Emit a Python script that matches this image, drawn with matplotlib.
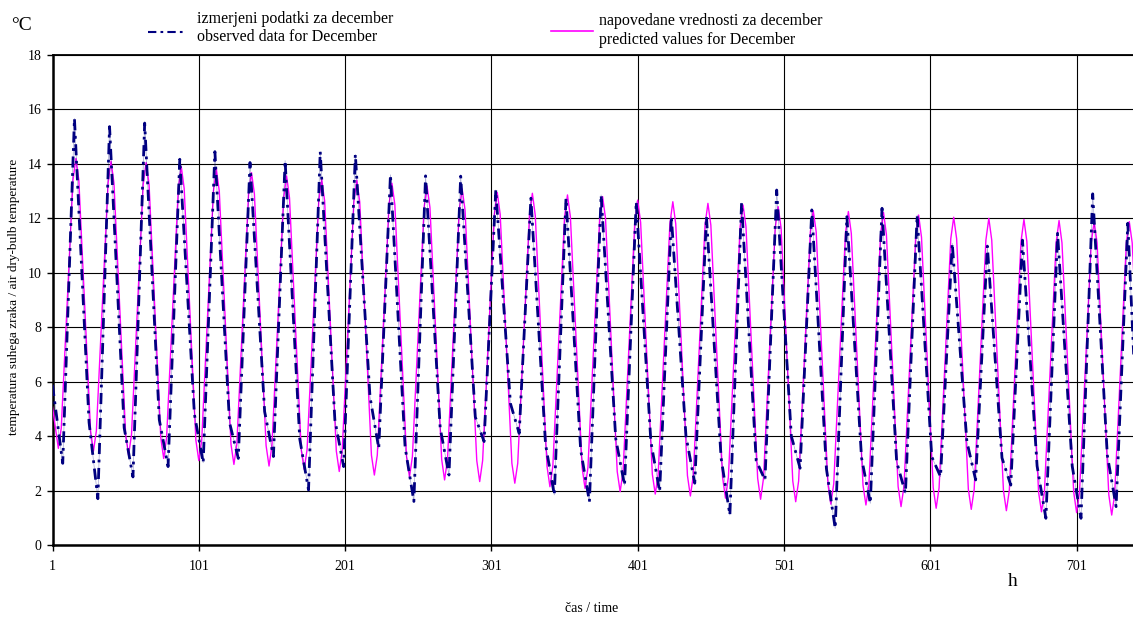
import numpy as np
import matplotlib
matplotlib.use('Agg')
import matplotlib.pyplot as plt
from matplotlib.lines import Line2D

## DATA (one value per day of December)
# observed: daily minimum (~08 h), daily maximum (~16 h), evening knee (~02 h next day)
obsLow = [3.0, 1.7, 2.5, 2.88, 3.02, 3.18, 3.25, 2.02, 2.88, 3.55, 1.6, 2.57, 3.8, 4.1, 1.84, 1.59,
          2.2, 1.96, 2.27, 1.1, 2.39, 2.82, 0.61, 1.53, 1.9, 2.51, 2.39, 2.2, 0.98, 0.98, 1.41]
obsHigh = [15.67, 15.37, 15.5, 14.17, 14.45, 14.05, 14.12, 14.45, 14.35, 13.6, 13.56, 13.55, 13.04, 12.74, 12.74, 12.86,
           12.61, 12.06, 12.06, 12.56, 13.04, 12.31, 12.06, 12.37, 12.12, 11.08, 10.98, 11.2, 11.45, 12.9, 11.82]
obsKnee = [4.5, 4.3, 4.6, 4.8, 4.5, 4.9, 3.9, 4.6, 5.45, 3.6, 4.3, 4.7, 5.2, 3.7, 3.5,
           3.9, 3.8, 4.0, 3.2, 3.1, 4.0, 2.8, 3.2, 3.06, 3.24, 3.8, 3.2, 2.9, 2.9, 3.3]
obsStart = 5.88
obsEnd = 7.0

# predicted: daily minimum (~05 h) and maximum (~17 h), plus values 2 h either side of them
predLow = [3.55, 3.45, 3.3, 3.18, 3.1, 2.96, 2.9, 2.78, 2.7, 2.57, 2.5, 2.39, 2.33, 2.27, 2.14, 2.08,
           1.96, 1.87, 1.8, 1.72, 1.68, 1.59, 1.5, 1.47, 1.41, 1.35, 1.31, 1.26, 1.22, 1.19, 1.1]
predLowSide = [4.3, 4.2, 4.05, 3.95, 3.85, 3.7, 3.65, 3.5, 3.45, 3.3, 3.25, 3.15, 3.1, 3.0, 2.9, 2.85,
               2.7, 2.6, 2.55, 2.5, 2.45, 2.35, 2.25, 2.2, 2.15, 2.1, 2.05, 2.0, 1.95, 1.95, 1.85]
predHigh = [14.2, 14.1, 14.05, 13.9, 13.8, 13.68, 13.56, 13.43, 13.4, 13.29, 13.19, 13.08, 12.95, 12.92, 12.86, 12.8,
            12.67, 12.61, 12.55, 12.49, 12.43, 12.28, 12.25, 12.22, 12.12, 12.04, 12.0, 11.96, 11.92, 11.88, 11.88]
predHighSide = [13.4, 13.3, 13.25, 13.1, 13.0, 12.9, 12.75, 12.65, 12.6, 12.5, 12.4, 12.3, 12.15, 12.1, 12.05, 12.0,
                11.85, 11.8, 11.75, 11.7, 11.65, 11.5, 11.45, 11.4, 11.3, 11.25, 11.2, 11.15, 11.1, 11.1, 11.1]
predStart = 5.08
predEnd = 9.0

xTicks = [1, 101, 201, 301, 401, 501, 601, 701]
yTicks = [0, 2, 4, 6, 8, 10, 12, 14, 16, 18]

## BUILD SERIES (hour of month for each read value)
def buildObserved():
    hours = [1]
    values = [obsStart]
    for day in range(len(obsLow)):
        hours += [8 + 24 * day, 16 + 24 * day]
        values += [obsLow[day], obsHigh[day]]
        if day < len(obsKnee):
            hours.append(26 + 24 * day)
            values.append(obsKnee[day])
    hours.append(740)
    values.append(obsEnd)
    return hours, values

def buildPredicted():
    hours = [1]
    values = [predStart]
    for day in range(len(predLow)):
        d = 24 * day
        hours += [3 + d, 5 + d, 7 + d, 15 + d, 17 + d, 19 + d]
        values += [predLowSide[day], predLow[day], predLowSide[day],
                   predHighSide[day], predHigh[day], predHighSide[day]]
    hours.append(741)
    values.append(predEnd)
    return hours, values

## PLOT
plt.rcParams['font.family'] = ['Liberation Serif', 'DejaVu Serif']

fig = plt.figure(figsize=(11.33, 6.17), dpi=100)
ax = fig.add_axes([52.5 / 1133, 72 / 617, 1 - 52.5 / 1133, 490 / 617])

obsHours, obsValues = buildObserved()
predHours, predValues = buildPredicted()

navy = '#000080'
magenta = '#ff00ff'
ax.plot(predHours, predValues, color=magenta, lw=1.0, zorder=3)
ax.plot(obsHours, obsValues, color=navy, lw=0.5, alpha=0.35, zorder=4)
ax.plot(obsHours, obsValues, color=navy, lw=2.0, dashes=(4.0, 2.0, 1.0, 2.0), zorder=4)

ax.set_xlim(1, 1 + (1133 - 52.5) / 1.463)
ax.set_ylim(0, 18)
ax.set_xticks(xTicks)
ax.set_xticklabels([str(t) for t in xTicks])
ax.set_yticks(yTicks)
ax.grid(True, color='black', lw=0.8, zorder=1)
ax.tick_params(direction='out', length=4, width=1, labelsize=10, colors='black')
ax.tick_params(axis='x', pad=7)
ax.tick_params(axis='y', pad=4)

ax.spines['right'].set_visible(False)
ax.spines['top'].set_linewidth(1.3)
ax.spines['left'].set_linewidth(1.8)
ax.spines['bottom'].set_linewidth(1.8)

# texts around the axes
fig.text(22 / 1133, 1 - 26 / 617, '°C', fontsize=14, ha='center', va='center')
fig.text(14 / 1133, 1 - 297 / 617, 'temperatura suhega zraka / air dry-bulb temperature',
         fontsize=9.5, rotation=90, ha='center', va='center')
fig.text(592 / 1133, 1 - 608 / 617, 'čas / time', fontsize=10, ha='center', va='center')
fig.text(1013 / 1133, 1 - 582 / 617, 'h', fontsize=14, ha='center', va='center')

# legend drawn by hand as in the original
fig.add_artist(Line2D([148 / 1133, 186 / 1133], [1 - 32 / 617, 1 - 32 / 617],
                      color=navy, lw=1.5, dashes=(4, 2, 1.3, 2)))
fig.text(197 / 1133, 1 - 19 / 617, 'izmerjeni podatki za december', fontsize=11.5, va='center')
fig.text(197 / 1133, 1 - 37 / 617, 'observed data for December', fontsize=11.5, va='center')
fig.add_artist(Line2D([551 / 1133, 593 / 1133], [1 - 31 / 617, 1 - 31 / 617],
                      color=magenta, lw=1.2))
fig.text(599 / 1133, 1 - 21 / 617, 'napovedane vrednosti za december', fontsize=11.5, va='center')
fig.text(599 / 1133, 1 - 40 / 617, 'predicted values for December', fontsize=11.5, va='center')

fig.savefig('out.png', dpi=100)
